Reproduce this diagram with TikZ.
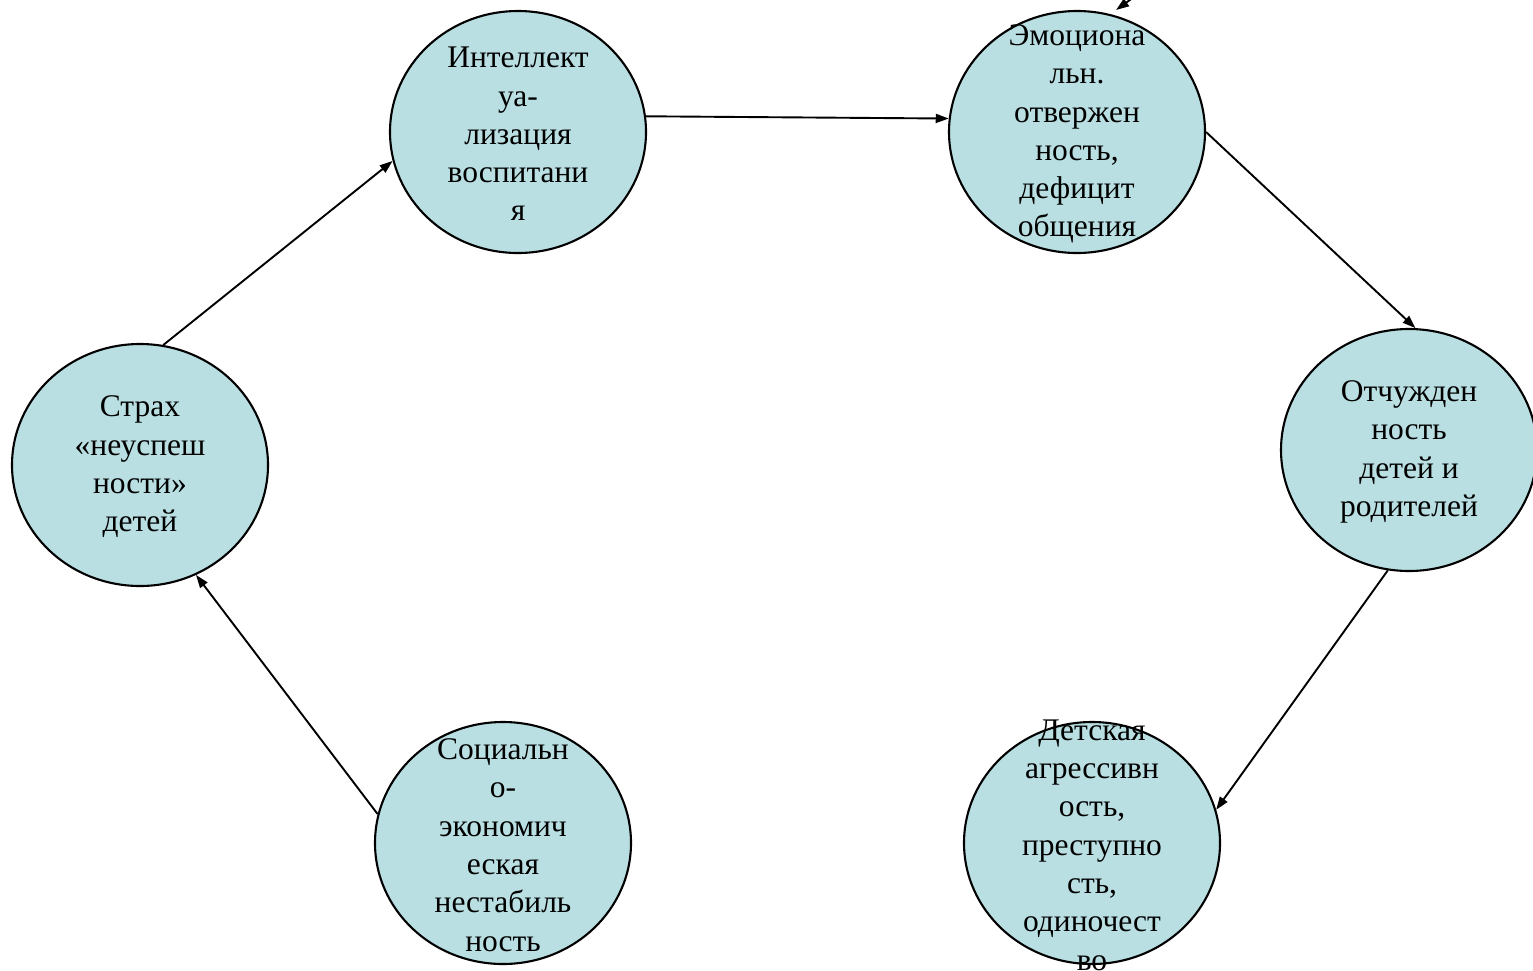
\documentclass[tikz,border=0pt]{standalone}
\usepackage{fontspec}
\setmainfont{Liberation Serif}
\usetikzlibrary{shapes.geometric,arrows.meta}
\definecolor{bubfill}{RGB}{185,223,226}
\tikzset{
  bub/.style={ellipse,draw=black,line width=2.1pt,fill=bubfill,minimum width=256pt,minimum height=242pt,inner sep=0pt},
  txt/.style={align=center,inner sep=0pt,font=\fontsize{31.5}{38.3}\selectfont},
  conn/.style={line width=1.9pt,-{Triangle[length=13pt,width=9pt]}}
}
\begin{document}
\begin{tikzpicture}[x=1pt,y=-1pt]
\useasboundingbox (0,0) rectangle (1533,970);
\clip (0,0) rectangle (1533,970);
\node[bub] (a) at (518,132) {};
\node[bub] (b) at (1077,132) {};
\node[bub] (c) at (1409,450) {};
\node[bub] (d) at (1092,843) {};
\node[bub] (e) at (503,843) {};
\node[bub] (f) at (140,465) {};
\node[txt] (at) at ([yshift=-2pt]a) {Интеллект\\уа-\\лизация\\воспитани\\я};
\node[txt] (bt) at ([yshift=-2pt]b) {Эмоциона\\льн.\\отвержен\\ность,\\дефицит\\общения};
\node[txt] (ct) at ([yshift=-2pt]c) {Отчужден\\ность\\детей и\\родителей};
\node[txt] (dt) at ([yshift=-2pt]d) {Детская\\агрессивн\\ость,\\преступно\\сть,\\одиночест\\во};
\node[txt] (et) at ([yshift=-2pt]e) {Социальн\\о-\\экономич\\еская\\нестабиль\\ность};
\node[txt] (ft) at ([yshift=-2pt]f) {Страх\\«неуспеш\\ности»\\детей};
\draw[conn] (f.79) -- (a.193);
\draw[conn] (a.7) -- (b.174);
\draw[conn] (b.0) -- (c.87);
\draw[conn] (c.260) -- (d.15);
\draw[conn] (e.167) -- (f.297);
\coordinate (t1) at (1152,-16);
\coordinate (t2) at (1116,10);
\draw[conn] (t1) -- (t2);
\end{tikzpicture}
\end{document}
